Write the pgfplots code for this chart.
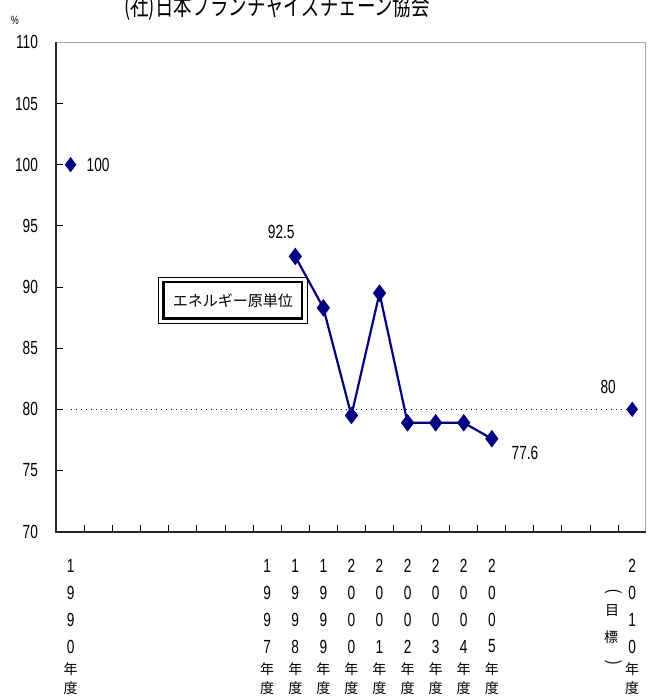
\documentclass[border=0pt]{standalone}
\usepackage{pgfplots}
\pgfplotsset{compat=1.18}
\usepackage{fontspec}
\setmainfont{Liberation Sans}[FakeStretch=0.72]
\newfontfamily\jp{Noto Sans CJK JP}
\newfontfamily\jpc{Noto Sans CJK JP}[FakeStretch=0.72]
\definecolor{navy}{RGB}{0,0,128}
\newcommand\cell[2]{\hbox to 0pt{\hss\vbox to #1{\vss\hbox{#2}\vss}\hss}}
\newcommand\cj[1]{{\jp\fontsize{7}{8}\selectfont #1}}
\newcommand\vl[4]{\vbox{\offinterlineskip\cell{13.5pt}{#1}\cell{13.5pt}{#2}\cell{13.5pt}{#3}\cell{13.5pt}{#4}\cell{9.5pt}{\cj{年}}\cell{9.5pt}{\cj{度}}}}
\begin{document}
\begin{tikzpicture}
\begin{axis}[
  scale only axis, width=295pt, height=244.7pt,
  xmin=1989.48, xmax=2010.49, ymin=70, ymax=110,
  ytick={70,75,...,110},
  xtick={1990.5,1991.5,...,2009.5},
  xticklabels={},
  tick align=inside,
  xtick pos=lower, ytick pos=left,
  major tick length=3.5pt,
  tick style={black, line width=0.5pt},
  axis line style={draw=none},
  /pgf/number format/assume math mode=true,
  yticklabel style={font=\fontsize{9.5}{10}\selectfont, xshift=-5.5pt},
  extra x ticks={1990,1997,1998,1999,2000,2001,2002,2003,2004,2005,2010},
  extra x tick labels={\vl1990,\vl1997,\vl1998,\vl1999,\vl2000,\vl2001,\vl2002,\vl2003,\vl2004,\vl2005,\vl2010},
  extra x tick style={major tick length=0pt, xticklabel style={anchor=north, inner sep=0pt, yshift=-9.95pt, font=\fontsize{9.5}{10}\selectfont}},
  clip=false,
]
\coordinate (BL) at (rel axis cs:0,0);
\draw[gray!70, line width=0.5pt] (rel axis cs:0,1) -- (rel axis cs:1,1) -- (rel axis cs:1,0);
\draw[black!85, line width=0.9pt] (rel axis cs:0,1) -- (rel axis cs:0,0) -- (rel axis cs:1,0);
\addplot[black, dotted, line width=0.5pt] coordinates {(1990,80) (2010,80)};
\addplot[navy, line width=1.1pt, mark=diamond*, mark size=3.5pt, mark options={solid}]
  coordinates {(1998,92.5) (1999,88.3) (2000,79.5) (2001,89.5) (2002,78.9) (2003,78.9) (2004,78.9) (2005,77.6)};
\addplot[navy, only marks, mark=diamond*, mark size=3.5pt]
  coordinates {(1990,100) (2010,80)};
\node[anchor=west, xshift=4.5pt, font=\fontsize{9.5}{10}\selectfont] at (axis cs:1990,100) {100};
\node[xshift=-7pt, yshift=12pt, font=\fontsize{9.5}{10}\selectfont] at (axis cs:1998,92.5) {92.5};
\node[xshift=-12pt, yshift=11pt, font=\fontsize{9.5}{10}\selectfont] at (axis cs:2010,80) {80};
\node[xshift=16.6pt, yshift=-7.3pt, font=\fontsize{9.5}{10}\selectfont] at (axis cs:2005,77.6) {77.6};
\node[draw, line width=1.3pt, minimum width=69.2pt, minimum height=18.4pt, inner sep=0pt, font=\jp\fontsize{7.5}{9}\selectfont] (box) at (axis cs:1995.78,88.91) {エネルギー原単位};
\draw[line width=0.5pt] ([shift={(-1.8pt,-1.8pt)}]box.south west) rectangle ([shift={(1.8pt,1.8pt)}]box.north east);
\node[font=\fontsize{9}{10}\selectfont, rotate=-90, xshift=0pt, inner sep=0pt] at ([shift={(-9.5pt,-30.2pt)}]axis cs:2010,70) {(};
\node[font=\jp\fontsize{7}{8}\selectfont, xshift=-10pt, yshift=-39.2pt] at (axis cs:2010,70) {目};
\node[font=\jp\fontsize{7}{8}\selectfont, xshift=-10.5pt, yshift=-52.6pt] at (axis cs:2010,70) {標};
\node[font=\fontsize{9}{10}\selectfont, rotate=-90, inner sep=0pt] at ([shift={(-9.5pt,-65.7pt)}]axis cs:2010,70) {)};
\end{axis}
\node[anchor=base, font=\jpc\fontsize{12.8}{14}\selectfont] at ([shift={(110.5pt,258pt)}]BL) {(社)日本フランチャイズチェーン協会};
\node[font=\fontsize{6}{7}\selectfont] at ([shift={(-20.5pt,255.85pt)}]BL) {\%};
\pgfresetboundingbox
\path[use as bounding box] ([shift={(-28pt,-83.15pt)}]BL) rectangle ([shift={(300.5pt,265.85pt)}]BL);
\end{tikzpicture}
\end{document}
